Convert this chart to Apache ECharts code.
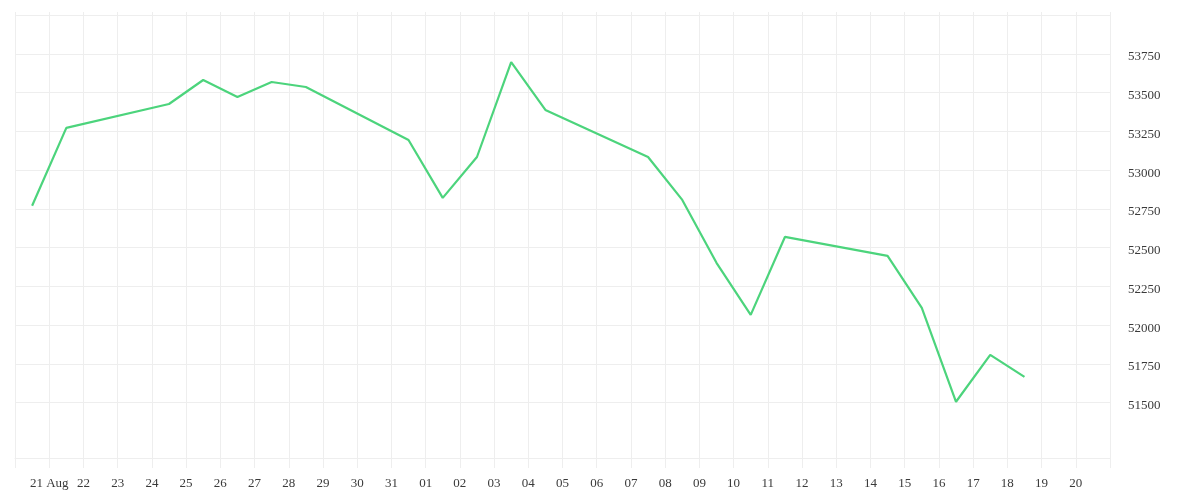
<!DOCTYPE html>
<html>
<head>
<meta charset="utf-8">
<script src="https://cdn.jsdelivr.net/npm/echarts@6/dist/echarts.min.js"></script>
<style>html,body{margin:0;padding:0;background:#fff}#c{width:1200px;height:500px}</style>
</head>
<body>
<div id="c"></div>
<script>
// trading days (each point drawn at midday of its date)
var dates = ['2020-08-20','2020-08-21','2020-08-24','2020-08-25','2020-08-26','2020-08-27','2020-08-28',
  '2020-08-31','2020-09-01','2020-09-02','2020-09-03','2020-09-04',
  '2020-09-07','2020-09-08','2020-09-09','2020-09-10','2020-09-11',
  '2020-09-14','2020-09-15','2020-09-16','2020-09-17','2020-09-18'];
var values = [52770, 53273, 53427, 53582, 53473, 53569, 53537,
  53195, 52821, 53085, 53698, 53389,
  53085, 52808, 52402, 52066, 52569,
  52447, 52111, 51505, 51808, 51666];
var axisStart = '2020-08-20';
var axisEnd = '2020-09-21';
var xTickLabels = ['', '21 Aug', '22', '23', '24', '25', '26', '27', '28', '29', '30', '31',
  '01', '02', '03', '04', '05', '06', '07', '08', '09', '10', '11', '12', '13', '14', '15',
  '16', '17', '18', '19', '20', ''];
var yTickValues = [51500, 51750, 52000, 52250, 52500, 52750, 53000, 53250, 53500, 53750, 54000];
var yLabelValues = [51500, 51750, 52000, 52250, 52500, 52750, 53000, 53250, 53500, 53750];
var yMin = 51142, yMax = 54021;

var DAY = 86400000;
function dayOffset(s) {
  var p = s.split('-');
  var a = axisStart.split('-');
  return (Date.UTC(+p[0], +p[1] - 1, +p[2]) - Date.UTC(+a[0], +a[1] - 1, +a[2])) / DAY;
}
var seriesData = dates.map(function (d, i) { return [dayOffset(d) + 0.5, values[i]]; });

var gridColor = '#eeeeee';
var font = 'Liberation Serif';
var chart = echarts.init(document.getElementById('c'));
chart.setOption({
  animation: false,
  backgroundColor: '#ffffff',
  grid: { left: 15, right: 90, top: 12, bottom: 42, containLabel: false },
  xAxis: {
    type: 'value',
    min: 0,
    max: dayOffset(axisEnd),
    interval: 1,
    axisLine: { show: true, lineStyle: { color: gridColor, width: 1 } },
    axisTick: { show: true, length: 10, lineStyle: { color: gridColor } },
    splitLine: { show: true, lineStyle: { color: gridColor, width: 1 } },
    axisLabel: {
      margin: 19,
      color: '#3a3a3a',
      fontFamily: font,
      fontSize: 13,
      showMinLabel: true,
      showMaxLabel: true,
      formatter: function (v) { return xTickLabels[Math.round(v)] || ''; }
    }
  },
  yAxis: {
    type: 'value',
    position: 'right',
    min: yMin,
    max: yMax,
    axisLine: { show: false },
    axisTick: { show: false, customValues: yTickValues },
    splitLine: { show: true, lineStyle: { color: gridColor, width: 1 } },
    axisLabel: {
      margin: 18,
      color: '#3a3a3a',
      fontFamily: font,
      fontSize: 13,
      verticalAlign: 'top',
      lineHeight: 6,
      customValues: yLabelValues,
      formatter: function (v) { return String(v); }
    }
  },
  series: [{
    type: 'line',
    data: seriesData,
    showSymbol: false,
    symbol: 'none',
    lineStyle: { color: '#4cd47c', width: 2.2 },
    itemStyle: { color: '#4cd47c' }
  }]
});
</script>
</body>
</html>
